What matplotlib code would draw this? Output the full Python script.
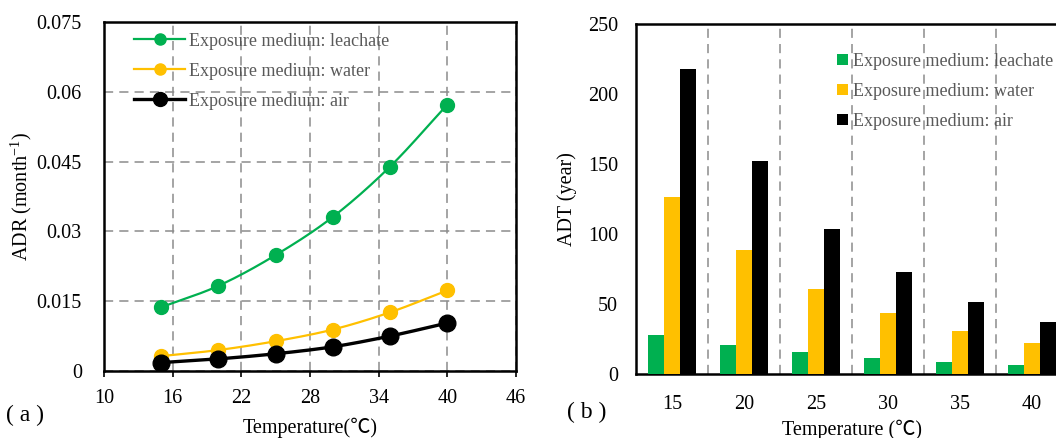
import numpy as np
import matplotlib
matplotlib.use("Agg")
import matplotlib.pyplot as plt
from matplotlib.lines import Line2D

# ---- data ----
temps = [15, 20, 25, 30, 35, 40]
adr_leachate = [0.0137, 0.0183, 0.0249, 0.0331, 0.0439, 0.0572]
adr_water = [0.0032, 0.0045, 0.0064, 0.0089, 0.0126, 0.0173]
adr_air = [0.0018, 0.0026, 0.0037, 0.0052, 0.0075, 0.0103]

categories = ["15", "20", "25", "30", "35", "40"]
adt_leachate = [28.0, 20.9, 15.4, 11.4, 8.6, 6.7]
adt_water = [126.4, 88.9, 60.6, 43.3, 30.7, 22.1]
adt_air = [217.7, 152.3, 103.8, 73.2, 51.8, 37.5]

series_labels = ["Exposure medium: leachate", "Exposure medium: water", "Exposure medium: air"]
left_xticks = [10, 16, 22, 28, 34, 40, 46]
left_yticks = [0, 0.015, 0.03, 0.045, 0.06, 0.075]
left_yticklabels = ["0", "0.015", "0.03", "0.045", "0.06", "0.075"]
right_yticks = [0, 50, 100, 150, 200, 250]

GREEN = "#00B050"
YELLOW = "#FFC000"
BLACK = "#000000"
GRAY_TXT = "#595959"
GRID = "#8c8c8c"

SERIF = ["Liberation Serif", "Noto Sans CJK SC", "DejaVu Sans"]
plt.rcParams["font.family"] = SERIF
plt.rcParams["mathtext.fontset"] = "custom"
plt.rcParams["mathtext.rm"] = "Liberation Serif"


def smooth(x, y, n=30):
    """Catmull-Rom style smoothing through given points (like Excel smoothed lines)."""
    x = np.asarray(x, float)
    y = np.asarray(y, float)
    px = np.concatenate([[2 * x[0] - x[1]], x, [2 * x[-1] - x[-2]]])
    py = np.concatenate([[2 * y[0] - y[1]], y, [2 * y[-1] - y[-2]]])
    xs, ys = [], []
    t = np.linspace(0, 1, n)
    for i in range(1, len(px) - 2):
        for arr, out in ((px, xs), (py, ys)):
            p0, p1, p2, p3 = arr[i - 1], arr[i], arr[i + 1], arr[i + 2]
            seg = 0.5 * ((2 * p1) + (-p0 + p2) * t + (2 * p0 - 5 * p1 + 4 * p2 - p3) * t ** 2
                         + (-p0 + 3 * p1 - 3 * p2 + p3) * t ** 3)
            out.append(seg)
    return np.concatenate(xs), np.concatenate(ys)


fig = plt.figure(figsize=(10.56, 4.38), dpi=100)

# ---------------- left panel ----------------
ax1 = fig.add_axes([0.0985, 0.153, 0.390, 0.797])
ax1.set_xlim(10, 46)
ax1.set_ylim(0, 0.075)
ax1.set_xticks(left_xticks)
ax1.set_yticks(left_yticks)
ax1.set_yticklabels(left_yticklabels)
ax1.tick_params(axis="x", direction="out", length=4, width=1.2, labelsize=14.5, pad=9)
ax1.tick_params(axis="y", length=0, labelsize=14.5, pad=16)
for s in ax1.spines.values():
    s.set_linewidth(1.8)
    s.set_color("black")
ax1.grid(True, linestyle=(0, (6, 4)), color=GRID, linewidth=1.1)
ax1.set_axisbelow(True)

for ys, col, lw, ms in ((adr_leachate, GREEN, 1.6, 10), (adr_water, YELLOW, 1.6, 10), (adr_air, BLACK, 2.4, 12)):
    sx, sy = smooth(temps, ys)
    ax1.plot(sx, sy, color=col, lw=lw, zorder=3)
    ax1.plot(temps, ys, "o", color=col, ms=ms, zorder=4)

h1 = [Line2D([], [], color=GREEN, lw=1.6, marker="o", ms=8),
      Line2D([], [], color=YELLOW, lw=1.6, marker="o", ms=8),
      Line2D([], [], color=BLACK, lw=2.4, marker="o", ms=10)]
leg1 = ax1.legend(h1, series_labels, loc="upper left", bbox_to_anchor=(0.055, 0.99), frameon=False,
                  fontsize=13, handlelength=2.85, handletextpad=0.2, labelspacing=0.72, borderaxespad=0)
for t in leg1.get_texts():
    t.set_color(GRAY_TXT)

ax1.set_ylabel("ADR (month$^{\\mathregular{-1}}$)", fontsize=14.5, labelpad=2)
ax1.set_xlabel("Temperature(℃)", fontsize=14.5, labelpad=7)
fig.text(0.006, 0.052, "( a )", fontsize=17, ha="left", va="center")

# ---------------- right panel ----------------
ax2 = fig.add_axes([0.6023, 0.146, 0.409, 0.799])
x = np.arange(len(categories))
w = 0.222
ax2.bar(x - w, adt_leachate, w, color=GREEN, zorder=3, label=series_labels[0])
ax2.bar(x, adt_water, w, color=YELLOW, zorder=3, label=series_labels[1])
ax2.bar(x + w, adt_air, w, color=BLACK, zorder=3, label=series_labels[2])
ax2.set_xlim(-0.5, len(categories) - 0.5)
ax2.set_ylim(0, 250)
ax2.set_yticks(right_yticks)
ax2.set_xticks(x)
ax2.set_xticklabels(categories)
ax2.set_xticks(np.arange(0.5, len(categories) - 0.5, 1), minor=True)
ax2.tick_params(axis="x", which="both", length=0, labelsize=14.5, pad=15)
ax2.tick_params(axis="y", length=0, labelsize=14.5, pad=13)
ax2.grid(True, axis="x", which="minor", linestyle=(0, (6, 4)), color=GRID, linewidth=1.1)
ax2.set_axisbelow(True)
for s in ax2.spines.values():
    s.set_linewidth(1.8)
    s.set_color("black")

leg2 = ax2.legend(loc="upper left", bbox_to_anchor=(0.449, 0.938), frameon=False, fontsize=13,
                  handlelength=0.6, handleheight=0.6, handletextpad=0.25, labelspacing=0.72,
                  borderaxespad=0)
for t in leg2.get_texts():
    t.set_color(GRAY_TXT)

ax2.set_ylabel("ADT (year)", fontsize=14.5, labelpad=8)
ax2.set_xlabel("Temperature (℃)", fontsize=14.5, labelpad=4)
fig.text(0.537, 0.058, "( b )", fontsize=17, ha="left", va="center")

fig.savefig("out.png", dpi=100)
